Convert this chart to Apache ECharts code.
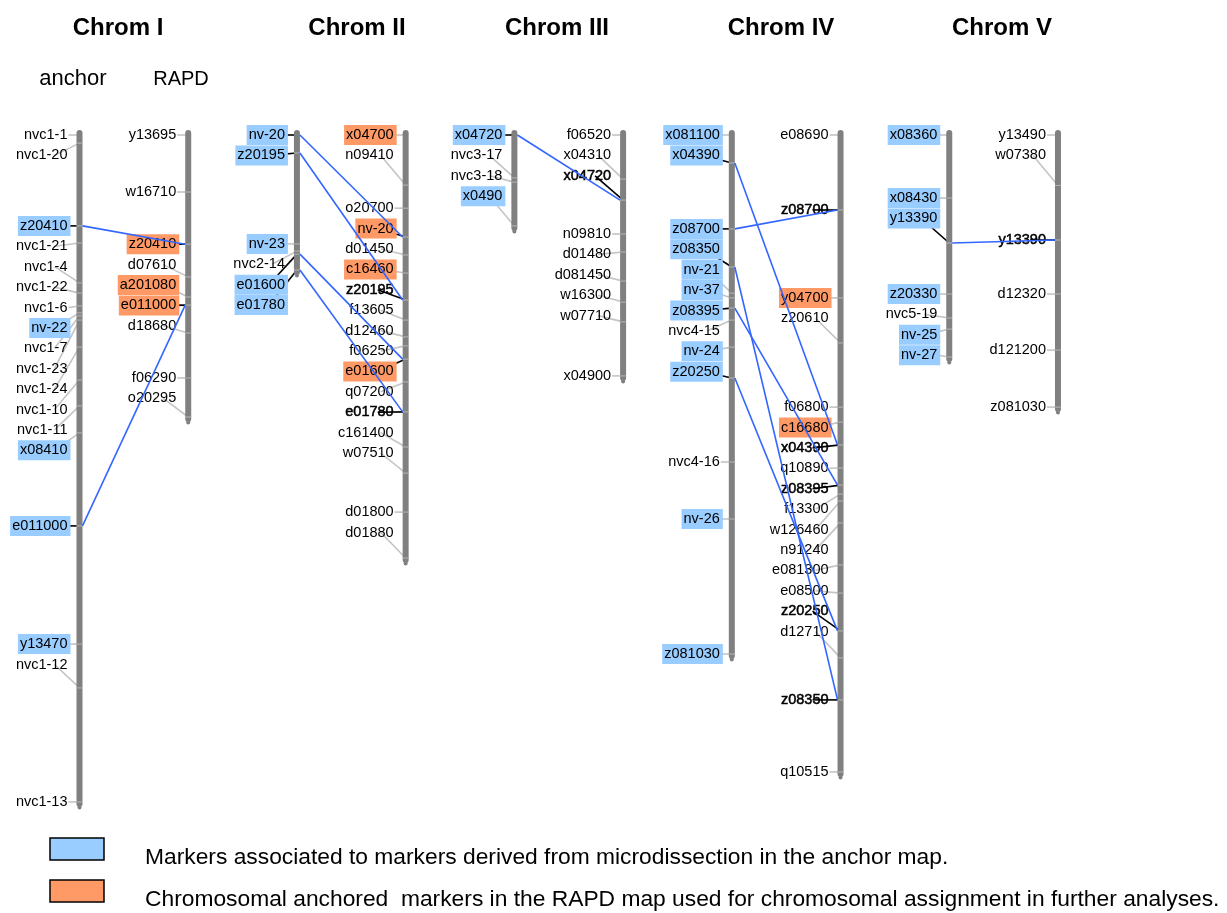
<!DOCTYPE html>
<html>
<head>
<meta charset="utf-8">
<title>Chromosome maps</title>
<script src="https://cdn.jsdelivr.net/npm/echarts@6/dist/echarts.min.js"></script>
<style>
  html, body { margin: 0; padding: 0; background: #fff; }
  #chart { width: 1227px; height: 913px; }
</style>
</head>
<body>
<div id="chart"></div>
<script>
// ---- Marker maps (positions in cM from the top of each linkage group) ----

// Chromosome I
const chrom1AnchorMarkers = ['nvc1-1', 'nvc1-20', 'z20410', 'nvc1-21', 'nvc1-4', 'nvc1-22', 'nvc1-6', 'nv-22', 'nvc1-7', 'nvc1-23', 'nvc1-24', 'nvc1-10', 'nvc1-11', 'x08410', 'e011000', 'y13470', 'nvc1-12', 'nvc1-13'];
const chrom1AnchorPos = [0, 2.7, 30.3, 36.0, 49.3, 52.7, 57.0, 59.3, 60.3, 61.7, 70.7, 81.7, 90.3, 99.3, 130.3, 169.7, 184.3, 222.3];
const chrom1RapdMarkers = ['y13695', 'w16710', 'z20410', 'd07610', 'a201080', 'e011000', 'd18680', 'f06290', 'o20295'];
const chrom1RapdPos = [0, 19.0, 36.4, 47.3, 54.0, 56.7, 66.0, 81.0, 94.0];

// Chromosome II
const chrom2AnchorMarkers = ['nv-20', 'z20195', 'nv-23', 'nvc2-14', 'e01600', 'e01780'];
const chrom2AnchorPos = [0, 6.0, 36.3, 38.7, 39.7, 45.0];
const chrom2RapdMarkers = ['x04700', 'n09410', 'o20700', 'nv-20', 'd01450', 'c16460', 'z20195', 'f13605', 'd12460', 'f06250', 'e01600', 'q07200', 'e01780', 'c161400', 'w07510', 'd01800', 'd01880'];
const chrom2RapdPos = [0, 16.7, 24.4, 34.0, 40.0, 46.0, 55.0, 61.7, 67.3, 70.3, 74.7, 82.3, 92.3, 104.0, 112.7, 125.7, 141.0];

// Chromosome III
const chrom3AnchorMarkers = ['x04720', 'nvc3-17', 'nvc3-18', 'x0490'];
const chrom3AnchorPos = [0, 14.3, 15.7, 30.3];
const chrom3RapdMarkers = ['f06520', 'x04310', 'x04720', 'n09810', 'd01480', 'd081450', 'w16300', 'w07710', 'x04900'];
const chrom3RapdPos = [0, 14.7, 21.7, 33.0, 39.0, 48.7, 55.7, 62.3, 80.3];

// Chromosome IV
const chrom4AnchorMarkers = ['x081100', 'x04390', 'z08700', 'z08350', 'nv-21', 'nv-37', 'z08395', 'nvc4-15', 'nv-24', 'z20250', 'nvc4-16', 'nv-26', 'z081030'];
const chrom4AnchorPos = [0, 9.3, 31.3, 44.0, 52.7, 54.3, 57.7, 61.7, 70.7, 81.0, 109.0, 128.0, 173.0];
const chrom4RapdMarkers = ['e08690', 'z08700', 'y04700', 'z20610', 'f06800', 'c16680', 'x04390', 'q10890', 'z08395', 'f13300', 'w126460', 'n91240', 'e081300', 'e08500', 'z20250', 'd12710', 'z08350', 'q10515'];
const chrom4RapdPos = [0, 25.0, 54.3, 69.3, 90.7, 95.7, 103.3, 111.0, 116.7, 119.7, 122.0, 129.3, 143.3, 152.7, 165.3, 174.3, 188.3, 212.3];

// Chromosome V
const chrom5AnchorMarkers = ['x08360', 'x08430', 'y13390', 'z20330', 'nvc5-19', 'nv-25', 'nv-27'];
const chrom5AnchorPos = [0, 21.0, 36.0, 53.0, 61.0, 64.7, 74.0];
const chrom5RapdMarkers = ['y13490', 'w07380', 'y13390', 'd12320', 'd121200', 'z081030'];
const chrom5RapdPos = [0, 16.8, 35.0, 53.0, 71.7, 90.7];

// Anchor-map markers associated to microdissection-derived markers
const chrom1AnchorAssociated = ['z20410', 'nv-22', 'x08410', 'e011000', 'y13470'];
const chrom2AnchorAssociated = ['nv-20', 'z20195', 'nv-23', 'e01600', 'e01780'];
const chrom3AnchorAssociated = ['x04720', 'x0490'];
const chrom4AnchorAssociated = ['x081100', 'x04390', 'z08700', 'z08350', 'nv-21', 'nv-37', 'z08395', 'nv-24', 'z20250', 'nv-26', 'z081030'];
const chrom5AnchorAssociated = ['x08360', 'x08430', 'y13390', 'z20330', 'nv-25', 'nv-27'];

// RAPD-map markers used for chromosomal assignment
const chrom1RapdAssigned = ['z20410', 'a201080', 'e011000'];
const chrom2RapdAssigned = ['x04700', 'nv-20', 'c16460', 'e01600'];
const chrom3RapdAssigned = [];
const chrom4RapdAssigned = ['y04700', 'c16680'];
const chrom5RapdAssigned = [];

const chromNames = ['Chrom I', 'Chrom II', 'Chrom III', 'Chrom IV', 'Chrom V'];
const legendTexts = [
  'Markers associated to markers derived from microdissection in the anchor map.',
  'Chromosomal anchored  markers in the RAPD map used for chromosomal assignment in further analyses.'
];

// ---- Build track list (anchor map + RAPD map per chromosome) ----
const BLUE = '#99CCFF';
const ORANGE = '#FF9966';
const LINK = '#3366FF';

const chromData = [
  [chrom1AnchorMarkers, chrom1AnchorPos, chrom1RapdMarkers, chrom1RapdPos, chrom1AnchorAssociated, chrom1RapdAssigned],
  [chrom2AnchorMarkers, chrom2AnchorPos, chrom2RapdMarkers, chrom2RapdPos, chrom2AnchorAssociated, chrom2RapdAssigned],
  [chrom3AnchorMarkers, chrom3AnchorPos, chrom3RapdMarkers, chrom3RapdPos, chrom3AnchorAssociated, chrom3RapdAssigned],
  [chrom4AnchorMarkers, chrom4AnchorPos, chrom4RapdMarkers, chrom4RapdPos, chrom4AnchorAssociated, chrom4RapdAssigned],
  [chrom5AnchorMarkers, chrom5AnchorPos, chrom5RapdMarkers, chrom5RapdPos, chrom5AnchorAssociated, chrom5RapdAssigned]
];

const tracks = [];
const links = [];
chromData.forEach(function (c, ci) {
  const [aNames, aPos, rNames, rPos, aHi, rHi] = c;
  const shared = aNames.filter(function (n) { return rNames.indexOf(n) >= 0; });
  tracks.push({ track: ci * 2, names: aNames, pos: aPos, hi: aHi, hiColor: BLUE, linked: shared, rapd: false });
  tracks.push({ track: ci * 2 + 1, names: rNames, pos: rPos, hi: rHi, hiColor: ORANGE, linked: shared, rapd: true });
  shared.forEach(function (n) {
    links.push([ci * 2, aPos[aNames.indexOf(n)], ci * 2 + 1, rPos[rNames.indexOf(n)]]);
  });
});

// ---- Label placement: stack labels when a marker sits close below the previous label ----
const LABEL_STEP = 20.4;   // px between stacked labels
const LABEL_SNAP = 51.5;   // px; closer markers are stacked under the previous label
const BAR_W = 6;
const FF = '"Liberation Sans", Arial, sans-serif';
const FONT = '14.5px ' + FF;

function layoutLabels(ys) {
  const out = [];
  ys.forEach(function (y, i) {
    if (i === 0) { out.push(y); return; }
    const prev = out[i - 1];
    out.push(y - prev < LABEL_SNAP ? prev + LABEL_STEP : y);
  });
  return out;
}

function renderTrack(params, api) {
  const t = tracks[params.dataIndex];
  const cx = api.coord([t.track, 0])[0];
  const ys = t.pos.map(function (p) { return api.coord([t.track, p])[1]; });
  const ly = layoutLabels(ys);
  const textEnd = cx - 12;
  const children = [];

  // leader lines from labels to marker positions
  t.names.forEach(function (n, i) {
    const linked = t.linked.indexOf(n) >= 0;
    const dy = ys[i] - ly[i];
    const x0 = linked ? textEnd - 16 : (Math.abs(dy) < 2 ? textEnd + 1 : textEnd - 13);
    children.push({
      type: 'line',
      shape: { x1: x0, y1: ly[i], x2: cx, y2: ys[i] },
      style: { stroke: linked ? '#000' : '#c4c4c4', lineWidth: 1.6 }
    });
  });

  // chromosome bar
  const top = ys[0] - 5;
  const bottom = ys[ys.length - 1] + 5;
  children.push({
    type: 'rect',
    shape: { x: cx - BAR_W / 2, y: top, width: BAR_W, height: bottom - top, r: 3 },
    style: { fill: '#808080' }
  });
  children.push({
    type: 'circle',
    shape: { cx: cx, cy: bottom + 0.5, r: 2 },
    style: { fill: '#808080' }
  });
  // marker separators across the bar
  ys.forEach(function (y, i) {
    if (i === 0) return;
    children.push({
      type: 'line',
      shape: { x1: cx - BAR_W / 2, y1: y, x2: cx + BAR_W / 2, y2: y },
      style: { stroke: '#b4b4b4', lineWidth: 1 }
    });
  });

  // marker labels
  t.names.forEach(function (n, i) {
    const hi = t.hi.indexOf(n) >= 0;
    const linked = t.linked.indexOf(n) >= 0;
    const style = {
      text: n,
      x: textEnd + 3,
      y: ly[i],
      align: 'right',
      verticalAlign: 'middle',
      font: FONT,
      fill: '#000',
      lineHeight: 16,
      padding: [2, 3, 2, 2]
    };
    if (hi) style.backgroundColor = t.hiColor;
    if (linked && !hi) { style.stroke = '#000'; style.lineWidth = 0.5; }
    children.push({ type: 'text', style: style });
  });

  return { type: 'group', children: children };
}

function renderLink(params, api) {
  const a = api.coord([api.value(0), api.value(1)]);
  const b = api.coord([api.value(2), api.value(3)]);
  return {
    type: 'line',
    shape: { x1: a[0] + BAR_W / 2, y1: a[1], x2: b[0] - BAR_W / 2, y2: b[1] },
    style: { stroke: LINK, lineWidth: 1.6 }
  };
}

// ---- Titles and legend ----
const titleX = [118, 357, 557, 781, 1002];
const graphics = [];
chromNames.forEach(function (name, i) {
  graphics.push({
    type: 'text', x: titleX[i], y: 28,
    style: { text: name, font: 'bold 24px ' + FF, fill: '#000', align: 'center', verticalAlign: 'middle' }
  });
});
graphics.push({ type: 'text', x: 73, y: 79, style: { text: 'anchor', font: '22px ' + FF, fill: '#000', align: 'center', verticalAlign: 'middle' } });
graphics.push({ type: 'text', x: 181, y: 79, style: { text: 'RAPD', font: '20px ' + FF, fill: '#000', align: 'center', verticalAlign: 'middle' } });
[BLUE, ORANGE].forEach(function (col, i) {
  const y = 849 + i * 42;
  graphics.push({ type: 'rect', shape: { x: 50, y: y - 11, width: 54, height: 22 }, style: { fill: col, stroke: '#000', lineWidth: 1.5 } });
  graphics.push({ type: 'text', x: 145, y: y + 9, style: { text: legendTexts[i], font: '22.8px ' + FF, fill: '#000', align: 'left', verticalAlign: 'middle' } });
});

const chart = echarts.init(document.getElementById('chart'), null, { renderer: 'canvas' });
chart.setOption({
  animation: false,
  backgroundColor: '#fff',
  grid: { left: 25.14, width: 1087.2, top: 135, height: 675 },
  xAxis: { type: 'value', min: -0.5, max: 9.5, show: false },
  yAxis: { type: 'value', min: 0, max: 225, inverse: true, show: false },
  graphic: graphics,
  series: [
    {
      type: 'custom',
      coordinateSystem: 'cartesian2d',
      renderItem: renderTrack,
      encode: { x: 0, y: 1 },
      data: tracks.map(function (t) { return [t.track, 0]; }),
      z: 2,
      silent: true
    },
    {
      type: 'custom',
      coordinateSystem: 'cartesian2d',
      renderItem: renderLink,
      encode: { x: [0, 2], y: [1, 3] },
      data: links,
      z: 3,
      silent: true
    }
  ]
});
</script>
</body>
</html>
